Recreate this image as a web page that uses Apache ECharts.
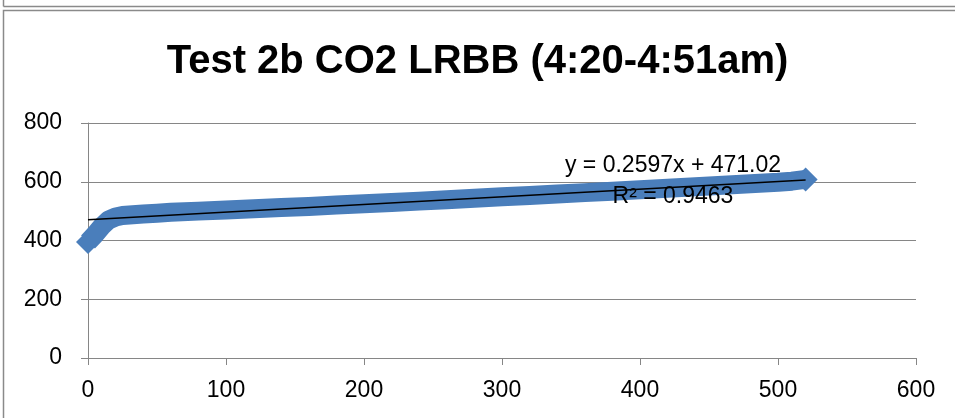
<!DOCTYPE html>
<html>
<head>
<meta charset="utf-8">
<script src="https://cdn.jsdelivr.net/npm/echarts@6/dist/echarts.min.js"></script>
<style>
html,body{margin:0;padding:0;background:#fff;}
#chart{width:955px;height:418px;}
</style>
</head>
<body>
<div id="chart"></div>
<script>
// Time (s) and CO2 readings
const timeSec = [0, 5, 10, 15, 20, 25, 30, 40, 50, 60, 80, 100, 120, 140, 160, 180, 200, 220, 240, 260, 280, 300, 320, 340, 360, 380, 400, 420, 440, 460, 480, 500, 510, 520];
const co2Vals = [395, 420, 448, 470, 480, 485, 487, 490, 493, 496, 500, 504, 508, 512, 516, 521, 525, 529, 534, 539, 544, 549, 553, 558, 563, 568, 573, 578, 583, 588, 593, 598, 602, 608];
// Linear trendline as printed on the chart
const trendSlope = 0.2597;
const trendIntercept = 471.02;
const trendRange = [0, 520];
const yTicks = [0, 200, 400, 600, 800];
const xTicks = [0, 100, 200, 300, 400, 500, 600];
const titleText = 'Test 2b CO2 LRBB (4:20-4:51am)';
const eqText = 'y = 0.2597x + 471.02';
const r2Text = 'R² = 0.9463';

const chart = echarts.init(document.getElementById('chart'));
const gridColor = '#868686';
const lastIdx = timeSec.length - 1;
chart.setOption({
  animation: false,
  backgroundColor: '#fff',
  title: {
    text: titleText,
    left: 'center',
    top: 37,
    textStyle: { fontFamily: 'Liberation Sans', fontWeight: 'bold', fontSize: 40, color: '#000' }
  },
  grid: { left: 88, right: 39, top: 123, bottom: 60 },
  xAxis: {
    type: 'value', min: xTicks[0], max: xTicks[xTicks.length - 1], interval: 100,
    axisLine: { show: true, lineStyle: { color: gridColor, width: 1 } },
    axisTick: { show: true, length: 7, lineStyle: { color: gridColor } },
    splitLine: { show: false },
    axisLabel: { fontFamily: 'Liberation Sans', fontSize: 23, color: '#000', margin: 21 }
  },
  yAxis: {
    type: 'value', min: yTicks[0], max: yTicks[yTicks.length - 1], interval: 200,
    axisLine: { show: true, lineStyle: { color: gridColor, width: 1 } },
    axisTick: { show: true, length: 7, lineStyle: { color: gridColor } },
    splitLine: { show: true, lineStyle: { color: gridColor, width: 1 } },
    axisLabel: { fontFamily: 'Liberation Sans', fontSize: 23, color: '#000', margin: 26 }
  },
  series: [
    {
      type: 'line',
      data: timeSec.map((t, i) => [t, co2Vals[i]]),
      clip: false,
      lineStyle: { color: '#4A7EBB', width: 19, cap: 'butt', join: 'round' },
      itemStyle: { color: '#4A7EBB' },
      symbol: 'diamond',
      symbolSize: (v, p) => (p.dataIndex === 0 || p.dataIndex === lastIdx) ? 24 : 0,
      showAllSymbol: true,
      z: 2
    },
    {
      type: 'line',
      data: trendRange.map(t => [t, trendSlope * t + trendIntercept]),
      symbol: 'none',
      lineStyle: { color: '#000', width: 1.5 },
      z: 3
    }
  ],
  graphic: [
    { type: 'rect', shape: { x: 3.5, y: 10.5, width: 1000, height: 500 }, style: { fill: 'none', stroke: '#8a8a8a', lineWidth: 1.5 }, z: 100 },
    { type: 'line', shape: { x1: 3.5, y1: 6.5, x2: 960, y2: 6.5 }, style: { stroke: '#8a8a8a', lineWidth: 1.5 }, z: 100 },
    { type: 'line', shape: { x1: 3.5, y1: 0, x2: 3.5, y2: 6.5 }, style: { stroke: '#8a8a8a', lineWidth: 1.5 }, z: 100 },
    { type: 'text', x: 673, y: 166, style: { text: eqText, fontFamily: 'Liberation Sans', fontSize: 23, fill: '#000', align: 'center', verticalAlign: 'middle' }, z: 100 },
    { type: 'text', x: 673, y: 197, style: { text: r2Text, fontFamily: 'Liberation Sans', fontSize: 23, fill: '#000', align: 'center', verticalAlign: 'middle' }, z: 100 }
  ]
});
</script>
</body>
</html>
